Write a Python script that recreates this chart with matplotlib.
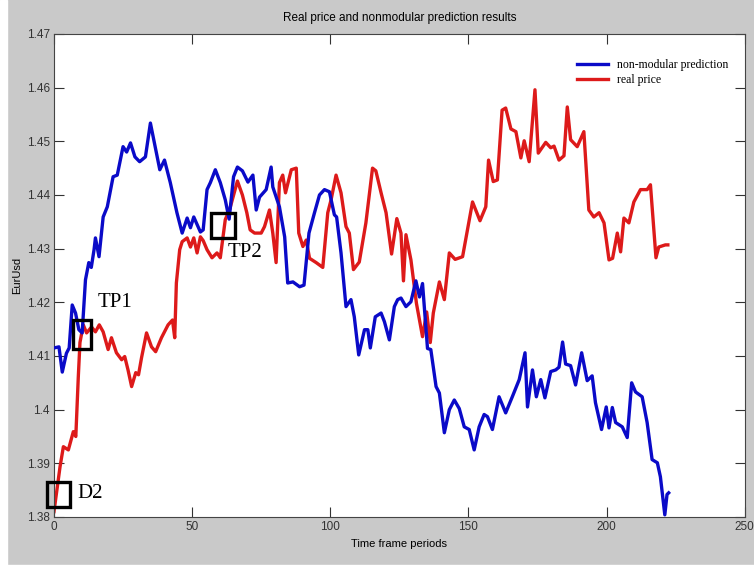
import numpy as np
import matplotlib.pyplot as plt
from matplotlib.patches import Rectangle

# -------------------------------
# Data
# -------------------------------
x_pred = [0, 1.8, 3, 4.5, 5.5, 6.6, 7.8, 9, 10.2, 11.4, 12.6, 13.5, 14.5, 15, 16.3, 17.8,
          19.3, 21.4, 22.9, 25, 26.3, 27.7, 29.3, 31, 33.1, 34.9, 36.7, 38.3, 40, 42.1,
          44.5, 46.4, 48.2, 49.4, 50.6, 51.8, 53, 54, 55.4, 56.6, 58.4, 60.2, 62, 63.4,
          65, 66.4, 68.2, 70.2, 72, 73.2, 74.4, 76.8, 78.6, 79.2, 81.6, 83.5, 84.6, 86.5,
          88.9, 90.5, 92.3, 94.3, 96.1, 97.9, 99.7, 101.5, 102.3, 103.9, 105.7, 107.5,
          108.7, 110.3, 112.4, 113.6, 114.5, 116.3, 118.4, 119.6, 121.4, 123.2, 124.4,
          125.6, 127.4, 129.2, 131, 132.3, 133.4, 135.2, 136.4, 138.3, 139.5, 141.3,
          143.1, 144.9, 146.7, 148.5, 150.3, 152.1, 153.9, 155.7, 156.9, 158.7, 161.1,
          163.5, 165.9, 168.4, 170.5, 171.4, 173.2, 174.6, 176.2, 177.7, 179.8, 181.6,
          182.8, 184.1, 185.2, 187, 188.8, 191, 193, 194.8, 196, 198.2, 199.9, 200.9,
          202.1, 203.3, 205.7, 207.5, 209.1, 210.5, 212.9, 214.7, 216.5, 218.4, 219.5,
          221.1, 221.9, 222.5]
y_pred = [1.4115, 1.4117, 1.407, 1.4105, 1.4115, 1.4195, 1.418, 1.4149, 1.4143, 1.4242,
          1.4274, 1.4265, 1.4298, 1.432, 1.4285, 1.4359, 1.4378, 1.4434, 1.4437, 1.449,
          1.448, 1.4497, 1.4471, 1.4462, 1.4471, 1.4534, 1.4488, 1.4447, 1.4465, 1.4423,
          1.4367, 1.4329, 1.4357, 1.4339, 1.4359, 1.4345, 1.4331, 1.4335, 1.441, 1.4423,
          1.4447, 1.4423, 1.4391, 1.4355, 1.4434, 1.4452, 1.4445, 1.4424, 1.4437, 1.4372,
          1.4396, 1.441, 1.4452, 1.4415, 1.4378, 1.4322, 1.4236, 1.4238, 1.4229, 1.4232,
          1.4329, 1.4367, 1.44, 1.441, 1.4406, 1.4363, 1.4359, 1.4292, 1.4192, 1.4205,
          1.4173, 1.4102, 1.4149, 1.4149, 1.4115, 1.4173, 1.418, 1.4164, 1.413, 1.4192,
          1.4205, 1.4208, 1.4192, 1.4201, 1.424, 1.421, 1.4235, 1.4114, 1.4112, 1.4043,
          1.4031, 1.3957, 1.4, 1.4018, 1.4002, 1.3968, 1.3963, 1.3925, 1.3968, 1.3991,
          1.3987, 1.3963, 1.4024, 1.3994, 1.4024, 1.4056, 1.4106, 1.4005, 1.4074, 1.4024,
          1.4056, 1.4022, 1.4071, 1.4074, 1.4079, 1.4126, 1.4085, 1.4082, 1.4046, 1.4106,
          1.4054, 1.4063, 1.4013, 1.3963, 1.4005, 1.3966, 1.4004, 1.3976, 1.3968, 1.3948,
          1.405, 1.4033, 1.4024, 1.3976, 1.3907, 1.3901, 1.3875, 1.3804, 1.3842, 1.3845]

x_real = [0, 2.2, 3.4, 5.2, 7, 7.9, 8.8, 9.4, 10.6, 11.8, 13.6, 15, 16.4, 17.8, 19.6, 20.8,
          22.6, 24.5, 25.6, 26.8, 28.1, 29.6, 30.6, 31.7, 33.5, 35.3, 36.8, 38.9, 41.3,
          42.9, 43.7, 44.3, 45.5, 46.4, 48.2, 49.4, 50.6, 51.8, 53, 54, 55.4, 57.2, 59,
          60.2, 62, 63.7, 66.4, 68.2, 69.8, 71, 72.6, 75, 76.2, 78, 79.2, 80.4, 81.6, 82.8,
          83.8, 85.9, 87.7, 88.6, 90.1, 91.3, 92.5, 94.9, 97.3, 99.1, 100.3, 102.1, 103.9,
          105.7, 106.9, 108.4, 110.5, 112.9, 115.3, 116.5, 118.4, 120.2, 122.2, 124.1,
          125.6, 126.5, 127.4, 129.2, 131.2, 133.4, 134.9, 136.2, 137.3, 139.5, 141.3,
          143.1, 145.2, 147.9, 151.5, 154.2, 156.3, 157.3, 159, 160.5, 162.2, 163.5, 165.4,
          167.2, 169, 170.2, 172, 174.1, 175.3, 178, 179.8, 181, 182.8, 184.6, 185.8, 187,
          189.4, 191.8, 193.6, 195.4, 197.3, 199.1, 200.9, 202.2, 203.9, 205.1, 206.3,
          208.1, 209.9, 212.3, 214.7, 215.9, 217.9, 218.9, 221.3, 222.2]
y_real = [1.381, 1.3894, 1.3931, 1.3925, 1.3959, 1.395, 1.4061, 1.4125, 1.4158, 1.4143,
          1.4154, 1.4145, 1.4158, 1.4145, 1.4112, 1.4134, 1.4106, 1.4093, 1.4099, 1.4074,
          1.4043, 1.4069, 1.4065, 1.4097, 1.4143, 1.4117, 1.4108, 1.4134, 1.4158, 1.4167,
          1.4134, 1.4236, 1.4298, 1.4313, 1.432, 1.4303, 1.432, 1.4292, 1.4322, 1.4315,
          1.4298, 1.4283, 1.4292, 1.4283, 1.4354, 1.4375, 1.4426, 1.44, 1.4367, 1.4335,
          1.4329, 1.4329, 1.4341, 1.4372, 1.4329, 1.4274, 1.4423, 1.4437, 1.4404, 1.4447,
          1.445, 1.4329, 1.4304, 1.4316, 1.4282, 1.4274, 1.4265, 1.4367, 1.4391, 1.4437,
          1.4404, 1.4341, 1.4329, 1.4261, 1.4275, 1.4348, 1.445, 1.4445, 1.4404, 1.4367,
          1.429, 1.4356, 1.4329, 1.424, 1.4326, 1.4279, 1.4198, 1.4136, 1.4182, 1.4125,
          1.418, 1.4238, 1.4205, 1.4292, 1.428, 1.4285, 1.4387, 1.4352, 1.4378, 1.4465,
          1.4425, 1.4428, 1.4558, 1.4562, 1.4523, 1.4518, 1.4469, 1.4501, 1.4462, 1.4596,
          1.4478, 1.4498, 1.4488, 1.4491, 1.4465, 1.4473, 1.4564, 1.4503, 1.449, 1.4518,
          1.4372, 1.4359, 1.4367, 1.4348, 1.4279, 1.4282, 1.4329, 1.4294, 1.4357, 1.4348,
          1.4387, 1.441, 1.441, 1.4419, 1.4283, 1.4303, 1.4307, 1.4307]

x_ticks = [0, 50, 100, 150, 200, 250]
y_ticks = [1.38, 1.39, 1.4, 1.41, 1.42, 1.43, 1.44, 1.45, 1.46, 1.47]
y_ticklabels = ['1.38', '1.39', '1.4', '1.41', '1.42', '1.43', '1.44', '1.45', '1.46', '1.47']

# marked points: label, box (x0, x1, y0, y1), text position
marks = [
    ('D2', (-2.5, 5.8, 1.3819, 1.3866), (8.5, 1.3843)),
    ('TP1', (6.9, 13.4, 1.4113, 1.4167), (15.8, 1.4200)),
    ('TP2', (57.0, 65.4, 1.4320, 1.4367), (63.0, 1.4293)),
]

# -------------------------------
# Plot
# -------------------------------
narrow = ['Liberation Sans Narrow', 'Liberation Sans', 'DejaVu Sans']
serif = ['Liberation Serif', 'DejaVu Serif']

fig = plt.figure(figsize=(7.54, 5.68), dpi=100, facecolor='#c9c9c9')
ax = fig.add_axes([0.0716, 0.0898, 0.916, 0.8504])
ax.set_facecolor('white')
# thin white strip on the left and bottom edge of the screenshot
fig.patches.append(Rectangle((0, 0), 0.009, 1, transform=fig.transFigure, color='white', zorder=0))
fig.patches.append(Rectangle((0, 0), 1, 0.005, transform=fig.transFigure, color='white', zorder=0))

ax.plot(x_pred, y_pred, color='#0a0ac8', lw=2.4, label='non-modular prediction', zorder=3)
ax.plot(x_real, y_real, color='#dd1a1a', lw=2.4, label='real price', zorder=2)

for lab, (bx0, bx1, by0, by1), (tx, ty) in marks:
    ax.add_patch(Rectangle((bx0, by0), bx1 - bx0, by1 - by0, fill=False,
                           ec='black', lw=2.4, clip_on=False, zorder=5))
    ax.text(tx, ty, lab, family=serif, fontsize=15, va='center', ha='left', zorder=5)

ax.set_xlim(0, 250)
ax.set_ylim(1.38, 1.47)
ax.set_xticks(x_ticks)
ax.set_yticks(y_ticks)
ax.set_yticklabels(y_ticklabels)
ax.tick_params(direction='in', length=7, width=0.8, top=True, right=True,
               labelsize=8.5, colors='#333333', pad=3)
for lbl in ax.get_xticklabels() + ax.get_yticklabels():
    lbl.set_family(narrow)
for s in ax.spines.values():
    s.set_color('#444444')
    s.set_linewidth(0.8)

ax.set_xlabel('Time frame periods', family=narrow, fontsize=8, labelpad=4)
ax.set_ylabel('EurUsd', family=narrow, fontsize=8)
ax.yaxis.set_label_coords(-0.046, 0.5)
ax.set_title('Real price and nonmodular prediction results', family=narrow,
             fontsize=8.5, pad=9)

leg = ax.legend(loc='upper right', frameon=False, prop={'family': serif, 'size': 8.5},
                handlelength=2.6, borderaxespad=0.6, labelspacing=0.3,
                bbox_to_anchor=(0.994, 0.973))

fig.savefig('out.png', dpi=100, facecolor=fig.get_facecolor())
